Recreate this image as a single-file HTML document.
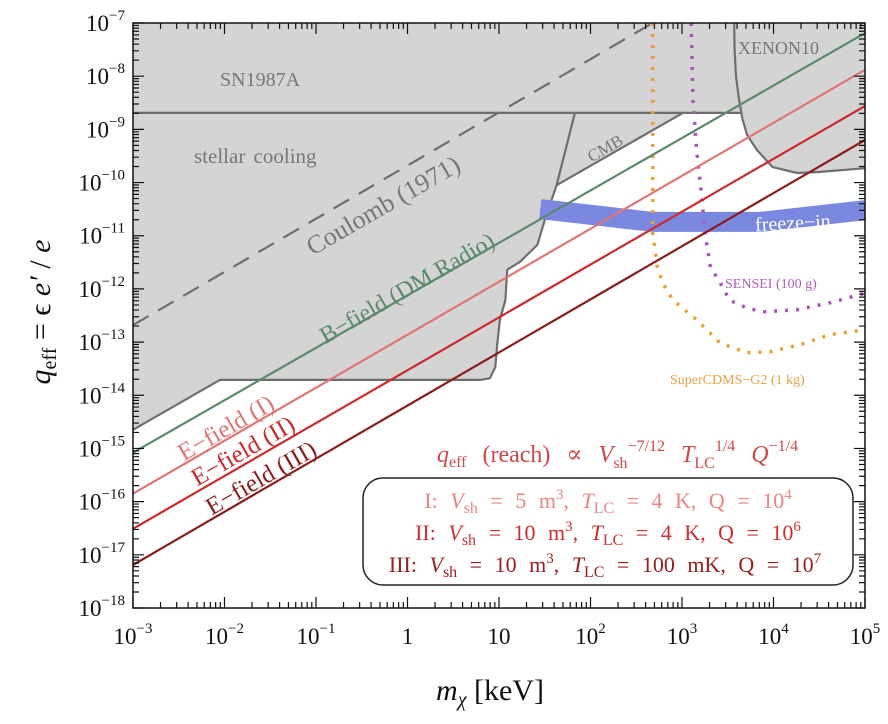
<!DOCTYPE html>
<html><head><meta charset="utf-8"><style>
html,body{margin:0;padding:0;background:#fff;}
svg{display:block;font-family:"Liberation Serif","DejaVu Serif",serif;}
</style></head><body>
<svg id="chart" width="888" height="724" viewBox="0 0 888 724" xmlns="http://www.w3.org/2000/svg">
<g id="regions"></g>
<g id="curves"></g>
<g id="axes"></g>
<g id="labels">
  <text x="220" y="86" font-size="20" fill="#777">SN1987A</text>
  <text x="194" y="163" font-size="21" fill="#777" word-spacing="3">stellar cooling</text>
  <text x="383" y="214" font-size="26" fill="#777" text-anchor="middle" transform="rotate(-30 383 205)">Coulomb (1971)</text>
  <text x="407" y="296" font-size="24" fill="#5a8a6a" text-anchor="middle" transform="rotate(-30 407 288)">B−field (DM Radio)</text>
  <text x="226" y="436" font-size="25" fill="#e07575" text-anchor="middle" transform="rotate(-30 226 428)">E−field (I)</text>
  <text x="243" y="459" font-size="25" fill="#cc2a2a" text-anchor="middle" transform="rotate(-30 243 451)">E−field (II)</text>
  <text x="261" y="486" font-size="25" fill="#8b1c1c" text-anchor="middle" transform="rotate(-30 261 478)">E−field (III)</text>
  <text x="605" y="154" font-size="17" fill="#777" text-anchor="middle" transform="rotate(-30 605 148)">CMB</text>
  <text x="738" y="54" font-size="18" fill="#777">XENON10</text>
  <text x="755" y="229" font-size="20" fill="#fff" transform="rotate(-3 800 222)">freeze−in</text>
  <text x="725" y="288" font-size="14" fill="#b05cb8">SENSEI (100 g)</text>
  <text x="670" y="384" font-size="14" fill="#e8a040">SuperCDMS−G2 (1 kg)</text>
  <text x="437" y="462" font-size="24" fill="#d04848" word-spacing="10"><tspan font-style="italic">q</tspan><tspan font-size="16" dy="5">eff</tspan><tspan dy="-5"> (reach) ∝ </tspan><tspan font-style="italic">V</tspan><tspan font-size="16" dy="6">sh</tspan><tspan font-size="16" dy="-17">−7/12</tspan><tspan dy="11"> </tspan><tspan font-style="italic">T</tspan><tspan font-size="16" dy="6">LC</tspan><tspan font-size="16" dy="-17">1/4</tspan><tspan dy="11"> </tspan><tspan font-style="italic">Q</tspan><tspan font-size="16" dy="-11">−1/4</tspan></text>
  <rect x="363" y="478" width="490" height="107" rx="20" fill="none" stroke="#222" stroke-width="1.5"/>
  <text x="608" y="508" font-size="22" fill="#e88585" text-anchor="middle" word-spacing="7">I:  <tspan font-style="italic">V</tspan><tspan font-size="16" dy="5">sh</tspan><tspan dy="-5"> = 5 m</tspan><tspan font-size="15" dy="-9">3</tspan><tspan dy="9">,  </tspan><tspan font-style="italic">T</tspan><tspan font-size="16" dy="5">LC</tspan><tspan dy="-5"> = 4 K, Q = 10</tspan><tspan font-size="15" dy="-9">4</tspan></text>
  <text x="608" y="540" font-size="22" fill="#cc3030" text-anchor="middle" word-spacing="7">II:  <tspan font-style="italic">V</tspan><tspan font-size="16" dy="5">sh</tspan><tspan dy="-5"> = 10 m</tspan><tspan font-size="15" dy="-9">3</tspan><tspan dy="9">,  </tspan><tspan font-style="italic">T</tspan><tspan font-size="16" dy="5">LC</tspan><tspan dy="-5"> = 4 K, Q = 10</tspan><tspan font-size="15" dy="-9">6</tspan></text>
  <text x="605" y="572" font-size="22" fill="#962020" text-anchor="middle" word-spacing="7">III:  <tspan font-style="italic">V</tspan><tspan font-size="16" dy="5">sh</tspan><tspan dy="-5"> = 10 m</tspan><tspan font-size="15" dy="-9">3</tspan><tspan dy="9">,  </tspan><tspan font-style="italic">T</tspan><tspan font-size="16" dy="5">LC</tspan><tspan dy="-5"> = 100 mK, Q = 10</tspan><tspan font-size="15" dy="-9">7</tspan></text>
  <text x="490" y="700" font-size="30" fill="#111" text-anchor="middle"><tspan font-style="italic">m</tspan><tspan font-size="20" dy="6" font-style="italic">χ</tspan><tspan dy="-6">  [keV]</tspan></text>
  <text x="0" y="0" font-size="30" fill="#111" text-anchor="middle" transform="translate(50 312) rotate(-90)"><tspan font-style="italic">q</tspan><tspan font-size="20" dy="6">eff</tspan><tspan dy="-6"> = ϵ </tspan><tspan font-style="italic">e′</tspan><tspan> / </tspan><tspan font-style="italic">e</tspan></text>
</g>
</svg>
<script>
// log10 data
const xTicks = [-3,-2,-1,0,1,2,3,4,5];
const xTickLabels = ["10","10","10","1","10","10","10","10","10"];
const xTickExps = ["−3","−2","−1","","","2","3","4","5"];
const yTicks = [-7,-8,-9,-10,-11,-12,-13,-14,-15,-16,-17,-18];
// excluded region outline (log10 m, log10 q)
const grayRegionX = [-3,5,5,4.51,4.26,3.99,3.82,3.71,3.66,3.01,1.63,1.50,1.42,1.23,1.09,1.07,1.01,0.98,0.96,0.90,0.79,-2.05,-3];
const grayRegionY = [-7,-7,-9.73,-9.80,-9.82,-9.71,-9.39,-9.07,-8.69,-8.69,-10.05,-10.70,-11.17,-11.49,-11.64,-12.21,-12.58,-13.05,-13.47,-13.68,-13.71,-13.71,-14.65];
const snLineX = [-3,3.66]; const snLineY = [-8.69,-8.69];
const stellarEdgeX = [1.83,1.63,1.50,1.42,1.23,1.09,1.07,1.01,0.98,0.96,0.90,0.79,-2.05,-3];
const stellarEdgeY = [-8.69,-10.05,-10.70,-11.17,-11.49,-11.64,-12.21,-12.58,-13.05,-13.47,-13.68,-13.71,-13.71,-14.65];
const cmbLineX = [3.01,1.63]; const cmbLineY = [-8.69,-10.05];
const xenonX = [3.57,3.575,3.59,3.62,3.66,3.71,3.82,3.99,4.26,4.51,5];
const xenonY = [-7,-7.5,-8.0,-8.4,-8.8,-9.10,-9.39,-9.71,-9.82,-9.80,-9.73];
// projected reach lines (endpoints at m=1e-3 and 1e5 keV)
const lineEndsX = [-3,5];
const bFieldY = [-15.08,-7.19];
const eField1Y = [-15.85,-7.88];
const eField2Y = [-16.51,-8.56];
const eField3Y = [-17.19,-9.20];
const coulombX = [-3,2.68]; const coulombY = [-12.68,-7];
const freezeX = [1.45,2.68,3.85,5]; const freezeY = [-10.50,-10.74,-10.74,-10.52];
const senseiX = [3.10,3.12,3.16,3.22,3.25,3.31,3.42,3.52,3.71,3.89,4.26,4.62,5];
const senseiY = [-7,-8.45,-9.39,-10.33,-10.95,-11.59,-11.89,-12.21,-12.36,-12.43,-12.39,-12.26,-12.08];
const cdmsX = [2.68,2.68,2.73,2.79,2.90,3.16,3.42,3.71,3.96,4.29,4.62,5];
const cdmsY = [-7,-10.95,-11.59,-11.89,-12.21,-12.58,-13.02,-13.20,-13.18,-13.05,-12.86,-12.77];

const L=133,R=865,T=23,B=608;
const sx = v => L + (v+3)*(R-L)/8;
const sy = v => T + (-7 - v)*(B-T)/11;
const NS="http://www.w3.org/2000/svg";
function mk(tag, parent, attrs){const e=document.createElementNS(NS,tag);for(const k in attrs)e.setAttribute(k,attrs[k]);parent.appendChild(e);return e;}
function pts(xs,ys){return xs.map((x,i)=>sx(x).toFixed(1)+","+sy(ys[i]).toFixed(1)).join(" ");}
const reg=document.getElementById('regions'), cur=document.getElementById('curves'), ax=document.getElementById('axes');

let e;
e=mk('polygon',reg,{points:pts(grayRegionX,grayRegionY),fill:'#d4d4d4'});


const edges=[[snLineX,snLineY,'sn1987a-boundary'],[stellarEdgeX,stellarEdgeY,'stellar-cooling-boundary'],[cmbLineX,cmbLineY,'cmb-boundary'],[xenonX,xenonY,'xenon10-boundary']];
edges.forEach(d=>{
  e=mk('polyline',reg,{points:pts(d[0],d[1]),fill:'none',stroke:'#6e6e6e','stroke-width':2.2,'stroke-linejoin':'round'});
  
  
});
e=mk('polyline',cur,{points:pts(freezeX,freezeY),fill:'none',stroke:'#7b88e0','stroke-width':20});


e=mk('polyline',cur,{points:pts(coulombX,coulombY),fill:'none',stroke:'#6e6e6e','stroke-width':2.2,'stroke-dasharray':'18 11'});


e=mk('polyline',cur,{points:pts(senseiX,senseiY),fill:'none',stroke:'#a855b5','stroke-width':3.5,'stroke-dasharray':'3 8'});


e=mk('polyline',cur,{points:pts(cdmsX,cdmsY),fill:'none',stroke:'#e8a030','stroke-width':3.5,'stroke-dasharray':'3 8'});


const lines=[[bFieldY,'#5a8a6a','bfield-line'],[eField1Y,'#e07575','efield-1-line'],[eField2Y,'#cc2a2a','efield-2-line'],[eField3Y,'#8b1c1c','efield-3-line']];
lines.forEach(d=>{
  e=mk('polyline',cur,{points:pts(lineEndsX,d[0]),fill:'none',stroke:d[1],'stroke-width':2.2});
  
  
});
// frame
e=mk('rect',ax,{x:L,y:T,width:R-L,height:B-T,fill:'none',stroke:'#111','stroke-width':1.5});


// ticks
let tp='';
for(let d=-3;d<5;d++){for(let m=1;m<10;m++){const v=d+Math.log10(m);const x=sx(v);const len=m==1?11:6;tp+=`M${x},${B}v${-len}M${x},${T}v${len}`;}}
tp+=`M${R},${B}v-11M${R},${T}v11`;
for(let d=-18;d<-7;d++){for(let m=1;m<10;m++){const v=d+Math.log10(m);const y=sy(v);const len=m==1?11:6;tp+=`M${L},${y}h${len}M${R},${y}h${-len}`;}}
tp+=`M${L},${T}h11M${R},${T}h-11`;
e=mk('path',ax,{d:tp,stroke:'#111','stroke-width':1.2,fill:'none'});


xTicks.forEach((v,i)=>{
  const t=mk('text',ax,{x:sx(v),y:644,'font-size':23,fill:'#111','text-anchor':'middle'});
  
  
  const a=document.createElementNS(NS,'tspan');a.textContent=xTickLabels[i];t.appendChild(a);
  if(xTickExps[i]){const b=document.createElementNS(NS,'tspan');b.setAttribute('font-size',15);b.setAttribute('dy',-11);b.textContent=xTickExps[i];t.appendChild(b);}
});
yTicks.forEach(v=>{
  const t=mk('text',ax,{x:125,y:sy(v)+8,'font-size':23,fill:'#111','text-anchor':'end'});
  
  
  const a=document.createElementNS(NS,'tspan');a.textContent='10';t.appendChild(a);
  const b=document.createElementNS(NS,'tspan');b.setAttribute('font-size',15);b.setAttribute('dy',-11);b.textContent='−'+(-v);t.appendChild(b);
});
</script>
</body></html>
